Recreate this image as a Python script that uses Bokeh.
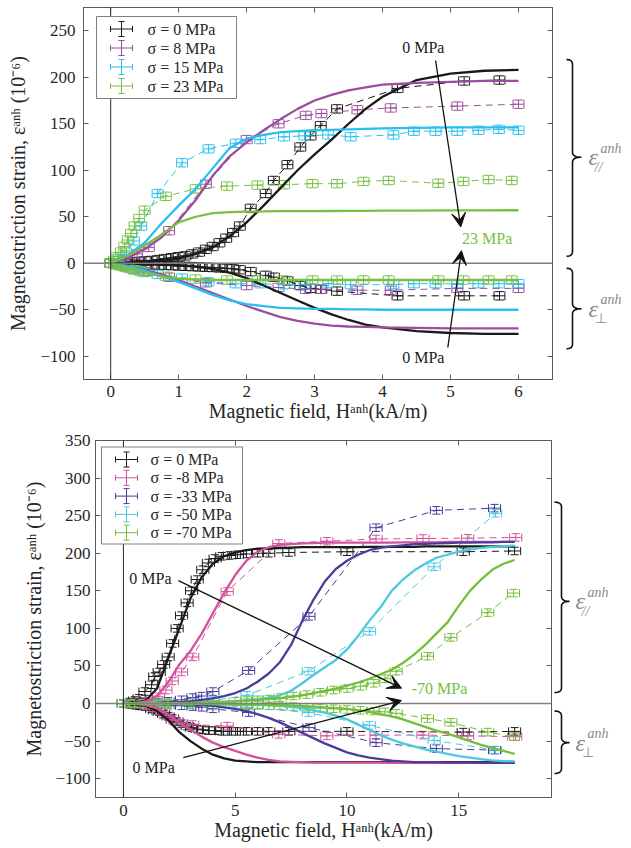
import numpy as np
from bokeh.plotting import figure
from bokeh.models import (ColumnDataSource, Whisker, TeeHead, Span, Label, Arrow,
                          VeeHead, LinearAxis, FixedTicker, Range1d, BoxAnnotation)
from bokeh.layouts import column, row
from bokeh.embed import file_html
from bokeh.resources import INLINE

FONT = "Liberation Serif"
TXT = "#262626"
AXC = "#5a5a5a"
GRAYTXT = "#8a8a8a"

# ======================= panel (a) data =======================
A_LABELS = ["σ = 0 MPa", "σ = 8 MPa", "σ = 15 MPa", "σ = 23 MPa"]
A_COLORS = ["#1a1a1a", "#9a4e9e", "#29c0ef", "#78c043"]

# measured (error-bar points)
A0_H = [0, 0.1, 0.2, 0.3, 0.4, 0.5, 0.6, 0.7, 0.8, 0.9, 1.0, 1.1, 1.2, 1.3, 1.4, 1.5, 1.6, 1.7, 1.8, 1.9,
        2.06, 2.28, 2.4, 2.6, 2.79, 2.94, 3.09, 3.33, 4.22, 5.2, 5.72]
A0_PAR = [0, 0.5, 1, 1.5, 2, 2.5, 3, 4, 5, 6, 7, 8, 10, 12, 15, 18, 22, 27, 33, 40,
          59, 75, 89, 106, 125, 137, 148, 166, 188, 196, 197]
A0_PERP = [0, -0.3, -0.6, -0.9, -1.2, -1.5, -1.8, -2, -2.3, -2.6, -3, -3.3, -3.6, -4, -4.3, -4.6, -5, -5.5, -6, -7,
           -9, -13, -15, -19, -24, -27, -28, -30, -35, -35, -35]

A8_H = [0, 0.2, 0.39, 0.56, 0.86, 1.4, 2.0, 2.47, 2.87, 3.1, 3.63, 4.12, 5.1, 6.0]
A8_PAR = [0, 4, 10, 17, 35, 85, 133, 150, 159, 161, 165, 167, 169, 171]
A8_PERP = [0, -3, -6, -9, -15, -21, -24, -26, -28, -28, -29, -29, -27, -27]

A15_H = [0, 0.12, 0.23, 0.34, 0.45, 0.69, 1.05, 1.44, 1.84, 2.2, 2.55, 2.85, 3.2, 3.53, 4.16, 4.46, 4.78,
         5.1, 5.41, 5.71, 6.0]
A15_PAR = [0, 5, 12, 24, 40, 75, 108, 123, 129, 133, 136, 137, 138, 136, 138, 142, 142, 142, 143, 144, 143]
A15_PERP = [0, -2, -4, -7, -9, -12, -16, -20, -22, -22, -23, -23, -22, -23, -23, -22, -22, -22, -22, -22, -22]

A23_H = [0, 0.05, 0.1, 0.15, 0.2, 0.25, 0.3, 0.35, 0.42, 0.5, 0.81, 1.25, 1.71, 2.16, 2.55, 2.97, 3.33,
         3.72, 4.09, 4.82, 5.19, 5.56, 5.9]
A23_PAR = [0, 3, 7, 12, 18, 25, 32, 40, 48, 57, 72, 80, 83, 84, 84.5, 85.6, 85.6, 88, 89, 86, 88, 90, 89]
A23_PERP = [0, -1, -2, -3, -4, -5, -6, -7, -8, -10, -14, -17, -18, -18, -18, -18, -18, -18, -18, -18, -18,
            -18, -18]

# model curves (solid)
AM_H = [0, 0.25, 0.5, 0.75, 1.0, 1.25, 1.5, 1.75, 2.0, 2.25, 2.5, 2.75, 3.0, 3.25, 3.5, 3.75, 4.0, 4.5,
        5.0, 5.5, 6.0]
AM0_PAR = [0, 0.3, 1, 2.5, 5, 10, 17, 29, 44, 62, 81, 100, 117, 133, 150, 166, 179, 197, 204, 207, 208]
AM0_PERP = [0, -0.1, -0.5, -1, -2, -3.5, -6, -10, -16, -24, -32, -40, -48, -55, -61, -66, -69, -73, -75,
            -76, -76]
AM8_PAR = [0, 6, 15, 28, 46, 68, 94, 115, 130, 143, 155, 166, 175, 181, 186, 189, 192, 194, 195, 196, 196]
AM8_PERP = [0, -3, -7, -12, -18, -25, -32, -39, -46, -52, -58, -62, -65, -67, -68, -68.5, -69, -69.5, -70,
            -70, -70]
AM15_PAR = [0, 9, 22, 43, 62, 80, 102, 124, 134, 138, 141, 142, 143, 143.5, 144, 144.5, 145, 145.5, 146,
            146, 146]
AM15_PERP = [0, -3, -8, -14, -20, -27, -34, -40, -44, -46, -48, -48.5, -49, -49, -49.5, -49.5, -50, -50,
             -50, -50, -50]
AM23_PAR = [0, 8, 19, 31, 44, 50, 54, 55, 55.5, 55.7, 56, 56, 56, 56.2, 56.3, 56.4, 56.5, 56.6, 56.8,
            56.9, 57]
AM23_PERP = [0, -5, -10, -14, -16.5, -17.5, -18, -18, -18, -18, -18, -18, -18, -18, -18, -18, -18, -18,
             -18, -18, -18]

A_XTICKS = [0, 1, 2, 3, 4, 5, 6]
A_YTICKS = [-100, -50, 0, 50, 100, 150, 200, 250]

# ======================= panel (b) data =======================
B_LABELS = ["σ = 0 MPa", "σ = -8 MPa", "σ = -33 MPa", "σ = -50 MPa", "σ = -70 MPa"]
B_COLORS = ["#1a1a1a", "#d4519b", "#4b3d9c", "#4cc8e0", "#74be3a"]

B0_H = [0, 0.27, 0.5, 0.7, 0.96, 1.26, 1.4, 1.6, 1.8, 2.0, 2.2, 2.4, 2.6, 2.85, 3.05, 3.3, 3.55, 3.8,
        4.1, 4.4, 4.75, 5.1, 5.5, 6.0, 6.5, 7.4, 10.0, 15.2, 17.5]
B0_PAR = [0, 2, 4, 7, 16, 25, 36, 42, 52, 62, 80, 100, 117, 134, 150, 165, 178, 187, 193, 196,
          197, 198, 199, 200, 200, 201, 202, 202, 203]
B0_PERP = [0, -1, -2, -3, -4, -7, -9, -11, -14, -17, -20, -24, -27, -30, -32, -34, -35, -36, -36, -37,
           -37, -37, -37, -37, -37, -37, -37, -38, -37]

B8_H = [0, 0.5, 1.0, 1.3, 1.57, 1.9, 2.18, 2.6, 3.1, 4.64, 6.95, 9.1, 11.3, 13.4, 15.4, 17.55]
B8_PAR = [0, 1, 3, 5, 9, 18, 30, 42, 62, 149, 213, 216, 219, 219.6, 220, 221]
B8_PERP = [0, -1, -3, -6, -10, -16, -22, -26, -28, -30, -41, -43, -42, -42, -43, -44]

B33_H = [0, 0.5, 1.0, 1.5, 2.0, 2.6, 3.1, 3.5, 4.0, 5.6, 8.3, 11.3, 14.0, 16.6]
B33_PAR = [0, 0.5, 1, 1.5, 3, 5, 8, 10, 16, 44, 116, 234, 257, 260]
B33_PERP = [0, -0.5, -1, -1.5, -2, -3, -4, -5, -7, -12, -32, -52, -60, -62]

B50_H = [0, 0.5, 1.0, 1.5, 2.0, 3.0, 4.0, 5.53, 8.27, 11.0, 13.9, 16.65]
B50_PAR = [0, 0, 0.5, 1, 1, 2, 4, 11, 43, 96, 182, 253]
B50_PERP = [0, 0, -0.5, -1, -1, -2, -3, -5, -12, -29, -49, -62]

B70_H = [0, 0.5, 1.0, 1.5, 2.0, 3.0, 4.0, 5.0, 5.5, 6.0, 6.5, 7.0, 7.6, 8.2, 8.8, 9.4, 10.0, 10.6, 11.2,
         11.7, 12.2, 13.6, 14.65, 16.3, 17.45]
B70_PAR = [0, 0, 0.5, 0.5, 1, 1.5, 2, 3, 4, 5, 6, 8, 10, 12, 15, 18, 20, 23, 27, 33, 43, 63, 88, 121, 147]
B70_PERP = [0, 0, -0.5, -0.5, -1, -1, -1.5, -2, -2, -2.5, -3, -3, -4, -5, -6, -7, -8, -9, -10, -11, -13,
            -20, -25, -38, -44]

BM_H = [0, 0.5, 1, 1.5, 2, 2.5, 3, 3.5, 4, 4.5, 5, 5.5, 6, 6.5, 7, 7.5, 8, 8.5, 9, 9.5, 10, 10.5, 11,
        11.5, 12, 12.5, 13, 13.5, 14, 14.5, 15, 15.5, 16, 16.5, 17, 17.5]
BM0_PAR = [0, 1, 4, 20, 60, 100, 140, 168, 186, 196, 201, 204, 206, 206.5, 207, 207.5, 208, 208, 208, 208,
           208, 208, 208.5, 208.5, 208.5, 208.5, 208.5, 209, 209, 209, 209, 209, 209, 209, 209, 209]
BM0_PERP = [0, -0.5, -3, -10, -22, -38, -50, -60, -68, -73, -76, -77, -78, -78, -78, -78, -78, -78, -78,
            -78, -78, -78, -78, -78, -78, -78, -78, -78, -78, -78, -78, -78, -78, -78, -78, -78]
BM8_PAR = [0, 0.5, 3, 10, 28, 52, 70, 93, 120, 147, 171, 190, 202, 208, 211, 212, 213, 213.5, 214, 214,
           214, 214, 214, 214, 214, 214.5, 214.5, 214.5, 214.5, 215, 215, 215, 215, 215, 215, 215]
BM8_PERP = [0, -0.3, -2, -6, -15, -25, -35, -44, -52, -58, -63, -68, -72, -75, -77, -77.5, -78, -78.5,
            -78.5, -78.5, -78.5, -78.5, -78.5, -78.5, -79, -79, -79, -79, -79, -79, -79, -79, -79, -79,
            -79, -79]
BM33_PAR = [0, 0.1, 0.3, 0.5, 1, 2, 3, 5, 7, 10, 14, 20, 29, 40, 55, 78, 110, 138, 162, 179,
            190, 198, 204, 207, 209, 210.5, 212, 212.5, 213, 213.5, 214, 214, 214.5, 214.5, 215, 215]
BM33_PERP = [0, 0, -0.1, -0.2, -0.3, -0.5, -1, -2, -3, -5, -7, -10, -14, -19, -25, -32, -39, -46, -53, -59,
             -65, -69, -72, -74, -76, -77, -78, -78, -78, -78.5, -78.5, -78.5, -79, -79, -79, -79]
BM50_PAR = [0, 0, 0.1, 0.2, 0.3, 0.5, 0.7, 0.8, 1, 2, 3, 4.5, 6, 8, 11, 17, 27, 38, 48, 58,
            72, 90, 110, 128, 150, 165, 177, 186, 194, 198, 202, 205, 207, 208.5, 209.5, 210]
BM50_PERP = [0, 0, 0, -0.1, -0.2, -0.3, -0.4, -0.5, -0.6, -0.8, -0.9, -1, -1, -2, -3, -4.5, -6, -9, -12,
             -16, -21, -28, -35, -42, -48, -53, -57, -61, -64, -67, -70, -72, -74, -75.5, -76.5, -77]
BM70_PAR = [0, 0, 0.1, 0.3, 0.5, 0.7, 1, 1.5, 2, 2.5, 3, 4, 5, 6, 7, 9, 11, 14, 17, 20,
            24, 28, 33, 39, 45, 54, 65, 78, 93, 108, 130, 150, 165, 178, 186, 191]
BM70_PERP = [0, 0, 0, 0, -0.1, -0.2, -0.3, -0.4, -0.5, -0.6, -0.8, -0.9, -1, -1.5, -2, -2.5, -3, -4, -5,
             -6, -7, -9, -11, -14, -17, -21, -26, -31, -36, -40, -45, -50, -55, -59, -63, -67]

B_XTICKS = [0, 5, 10, 15]
B_YTICKS = [-100, -50, 0, 50, 100, 150, 200, 250, 300, 350]

# annotations (text, x, y, color, align) and arrows (x0, y0, x1, y1)
A_NOTES = [("0 MPa", 4.6, 232, "#1a1a1a", "center"), ("23 MPa", 5.17, 26.5, "#78c043", "left"),
           ("0 MPa", 4.6, -101.7, "#1a1a1a", "center")]
A_ARROWS = [(4.78, 218, 5.15, 39), (4.96, -90.6, 5.16, 13.5)]
B_NOTES = [("0 MPa", 1.21, 166, "#1a1a1a", "center"), ("-70 MPa", 12.9, 20.5, "#74be3a", "left"),
           ("0 MPa", 1.35, -85, "#1a1a1a", "center")]
B_ARROWS = [(2.46, 163.6, 12.44, 20.5), (2.68, -72, 12.44, 4)]

# brackets on the right: (top, bottom, tip, subscript)
A_BRACKETS = [(219, 7.5, 114, "//"), (-5.4, -92, -49, "⊥")]
B_BRACKETS = [(268, 14.6, 136, "//"), (-10, -93, -52, "⊥")]


def style_axis(ax, ticks, label_size, standoff):
    ax.ticker = FixedTicker(ticks=ticks)
    ax.axis_line_color = AXC
    ax.major_tick_line_color = AXC
    ax.major_tick_in = 5
    ax.major_tick_out = 0
    ax.minor_tick_line_color = None
    ax.major_label_text_font = FONT
    ax.major_label_text_font_size = label_size
    ax.major_label_text_color = TXT
    ax.major_label_standoff = standoff
    ax.axis_label_text_font = FONT
    ax.axis_label_text_font_size = "20px"
    ax.axis_label_text_font_style = "normal"
    ax.axis_label_text_color = TXT


def make_panel(cfg):
    xr, yr, fw, fh = cfg["xr"], cfg["yr"], cfg["fw"], cfg["fh"]
    p = figure(frame_width=fw, frame_height=fh, x_range=Range1d(*xr), y_range=Range1d(*yr),
               min_border_left=cfg["ml"], min_border_right=1, min_border_top=cfg["mt"],
               min_border_bottom=cfg["mb"], output_backend="svg", toolbar_location=None)
    p.grid.visible = False
    p.outline_line_color = AXC
    p.outline_line_width = 1
    style_axis(p.xaxis[0], cfg["xticks"], "17px", cfg["xstand"])
    style_axis(p.yaxis[0], cfg["yticks"], "17px", cfg["ystand"])
    p.xaxis.axis_label = "Magnetic field, Hᵃⁿʰ(kA/m)"
    p.xaxis.axis_label_standoff = 0
    p.yaxis.axis_label = "Magnetostriction strain, εᵃⁿʰ (10⁻⁶)"
    p.yaxis.axis_label_standoff = cfg["ylstand"]
    for loc, ticks in (("above", cfg["xticks"]), ("right", cfg["yticks"])):
        ax = LinearAxis()
        style_axis(ax, ticks, "0px", 0)
        ax.major_label_text_alpha = 0
        p.add_layout(ax, loc)

    p.add_layout(Span(location=0, dimension="width", line_color="#7f7f7f", line_width=1.4))
    p.add_layout(Span(location=0, dimension="height", line_color="#2a2a2a", line_width=1))

    xerr, yerr, cap = cfg["xerr"], cfg["yerr"], cfg["cap"]
    # measured data: dashed line + x/y error bars
    for H, par, perp, col in cfg["meas"]:
        for E in (par, perp):
            h = np.asarray(H, float)
            e = np.asarray(E, float)
            src = ColumnDataSource(dict(x=h, y=e, xlo=h - xerr, xhi=h + xerr, ylo=e - yerr, yhi=e + yerr))
            p.line("x", "y", source=src, line_color=col, line_width=1, line_dash="7 5")
            for dim, base, lo, hi in (("width", "y", "xlo", "xhi"), ("height", "x", "ylo", "yhi")):
                p.add_layout(Whisker(source=src, base=base, lower=lo, upper=hi, dimension=dim,
                                     level="underlay", line_color=col, line_width=1,
                                     upper_head=TeeHead(size=cap, line_color=col, line_width=1),
                                     lower_head=TeeHead(size=cap, line_color=col, line_width=1)))
    # model curves
    for H, par, perp, col in cfg["model"]:
        p.line(H, par, line_color=col, line_width=2.3)
        p.line(H, perp, line_color=col, line_width=2.3)

    # notes and arrows
    for txt, x, y, col, al in cfg["notes"]:
        p.add_layout(Label(x=x, y=y, text=txt, text_color=col, text_font=FONT, text_font_size="16px",
                           text_align=al, text_baseline="middle"))
    for x0, y0, x1, y1 in cfg["arrows"]:
        p.add_layout(Arrow(x_start=x0, y_start=y0, x_end=x1, y_end=y1, line_color="#111111",
                           line_width=1.3, end=VeeHead(size=14, fill_color="#111111",
                                                        line_color="#111111", line_width=1)))

    # panel letter (outside the frame, to the left)
    p.add_layout(Label(x=xr[0], y=yr[1], x_offset=cfg["letter_dx"], y_offset=cfg["letter_dy"],
                       text=cfg["letter"], text_font=FONT, text_font_size="19px", text_color=TXT,
                       text_baseline="middle", text_align="left"))

    # legend (drawn box, error-bar icons, labels)
    sx = (xr[1] - xr[0]) / fw
    sy = (yr[1] - yr[0]) / fh
    X = lambda px: xr[0] + px * sx
    Y = lambda px: yr[1] - px * sy
    lg = cfg["legend"]
    p.add_layout(BoxAnnotation(left=X(lg["left"]), right=X(lg["left"] + lg["w"]), top=Y(lg["top"]),
                               bottom=Y(lg["top"] + lg["h"]), fill_color="white", fill_alpha=1,
                               line_color="#7f7f7f", line_width=1, line_alpha=1, level="annotation"))
    for i, (lab, col) in enumerate(zip(cfg["labels"], cfg["colors"])):
        cy = lg["top"] + lg["row0"] + i * lg["row"]
        cx = lg["icon"]
        s1 = ColumnDataSource(dict(b=[Y(cy)], lo=[X(cx - 11)], hi=[X(cx + 11)]))
        s2 = ColumnDataSource(dict(b=[X(cx)], lo=[Y(cy + 7.5)], hi=[Y(cy - 7.5)]))
        for src, dim in ((s1, "width"), (s2, "height")):
            p.add_layout(Whisker(source=src, base="b", lower="lo", upper="hi", dimension=dim,
                                 level="annotation", line_color=col, line_width=1,
                                 upper_head=TeeHead(size=6, line_color=col, line_width=1),
                                 lower_head=TeeHead(size=6, line_color=col, line_width=1)))
        p.add_layout(Label(x=X(lg["text"]), y=Y(cy), text=lab, text_font=FONT, text_font_size="16px",
                           text_color=TXT, text_baseline="middle", text_align="left"))

    # side strip with braces
    sw = cfg["sw"]
    s = figure(frame_width=sw, frame_height=fh, x_range=Range1d(0, sw), y_range=p.y_range,
               x_axis_type=None, y_axis_type=None, min_border_left=0, min_border_right=0,
               min_border_top=cfg["mt"], min_border_bottom=cfg["mb"], outline_line_color=None,
               output_backend="svg", toolbar_location=None)
    bx = cfg["brace_x"]
    r = 5 * sy
    t = np.linspace(0, 1, 10)

    def quad(p0, c, p1):
        return ((1 - t) ** 2 * p0[0] + 2 * (1 - t) * t * c[0] + t ** 2 * p1[0],
                (1 - t) ** 2 * p0[1] + 2 * (1 - t) * t * c[1] + t ** 2 * p1[1])

    for top, bot, mid, sub in cfg["brackets"]:
        xe, xs_, xt = bx
        pieces = [quad((xe, top), (xs_, top), (xs_, top - r)),
                  quad((xs_, mid + r), (xs_, mid), (xt, mid)),
                  quad((xt, mid), (xs_, mid), (xs_, mid - r)),
                  quad((xs_, bot + r), (xs_, bot), (xe, bot))]
        xs = np.concatenate([pieces[0][0], pieces[1][0], pieces[2][0], pieces[3][0]])
        ys = np.concatenate([pieces[0][1], pieces[1][1], pieces[2][1], pieces[3][1]])
        s.line(xs, ys, line_color="#111111", line_width=1.6)
        lx = cfg["eps_x"]
        s.add_layout(Label(x=lx, y=mid, text="ε", text_font=FONT, text_font_size="24px",
                           text_font_style="italic", text_color=GRAYTXT, text_baseline="middle",
                           text_align="left"))
        s.add_layout(Label(x=lx + 12, y=mid, y_offset=9, text="anh", text_font=FONT,
                           text_font_size="14px", text_font_style="italic", text_color=GRAYTXT,
                           text_baseline="middle", text_align="left"))
        s.add_layout(Label(x=lx + 6, y=mid, y_offset=-10, text=sub, text_font=FONT,
                           text_font_size="14px", text_font_style="italic" if sub == "//" else "normal",
                           text_color=GRAYTXT, text_baseline="middle", text_align="left"))
    return row(p, s)


cfg_a = dict(xr=(-0.4, 6.5), yr=(-125, 275), fw=469, fh=372, ml=83, mt=7, mb=50, sw=78,
             xticks=A_XTICKS, yticks=A_YTICKS, xstand=6, ystand=8, ylstand=8,
             xerr=0.08, yerr=4.5, cap=9,
             meas=[(A0_H, A0_PAR, A0_PERP, A_COLORS[0]), (A8_H, A8_PAR, A8_PERP, A_COLORS[1]),
                   (A15_H, A15_PAR, A15_PERP, A_COLORS[2]), (A23_H, A23_PAR, A23_PERP, A_COLORS[3])],
             model=[(AM_H, AM0_PAR, AM0_PERP, A_COLORS[0]), (AM_H, AM8_PAR, AM8_PERP, A_COLORS[1]),
                    (AM_H, AM15_PAR, AM15_PERP, A_COLORS[2]), (AM_H, AM23_PAR, AM23_PERP, A_COLORS[3])],
             notes=A_NOTES, arrows=A_ARROWS, letter="(a)", letter_dx=-67, letter_dy=-9,
             legend=dict(left=13, top=9, w=140, h=82, row0=12.5, row=19, icon=38, text=64),
             labels=A_LABELS, colors=A_COLORS, brackets=A_BRACKETS, brace_x=(13, 19, 28), eps_x=35)

cfg_b = dict(xr=(-1.25, 19.15), yr=(-125, 350), fw=456, fh=357, ml=95, mt=11, mb=48, sw=79,
             xticks=B_XTICKS, yticks=B_YTICKS, xstand=7, ystand=5, ylstand=7,
             xerr=0.27, yerr=5, cap=8,
             meas=[(B0_H, B0_PAR, B0_PERP, B_COLORS[0]), (B8_H, B8_PAR, B8_PERP, B_COLORS[1]),
                   (B33_H, B33_PAR, B33_PERP, B_COLORS[2]), (B50_H, B50_PAR, B50_PERP, B_COLORS[3]),
                   (B70_H, B70_PAR, B70_PERP, B_COLORS[4])],
             model=[(BM_H, BM0_PAR, BM0_PERP, B_COLORS[0]), (BM_H, BM8_PAR, BM8_PERP, B_COLORS[1]),
                    (BM_H, BM33_PAR, BM33_PERP, B_COLORS[2]), (BM_H, BM50_PAR, BM50_PERP, B_COLORS[3]),
                    (BM_H, BM70_PAR, BM70_PERP, B_COLORS[4])],
             notes=B_NOTES, arrows=B_ARROWS, letter="(b)", letter_dx=-64, letter_dy=-2,
             legend=dict(left=6, top=6.5, w=141, h=97, row0=12.5, row=18.3, icon=31, text=55),
             labels=B_LABELS, colors=B_COLORS, brackets=B_BRACKETS, brace_x=(2, 9, 17), eps_x=23)

layout = column(make_panel(cfg_a), make_panel(cfg_b))
open("out.html", "w").write(file_html(layout, INLINE))
